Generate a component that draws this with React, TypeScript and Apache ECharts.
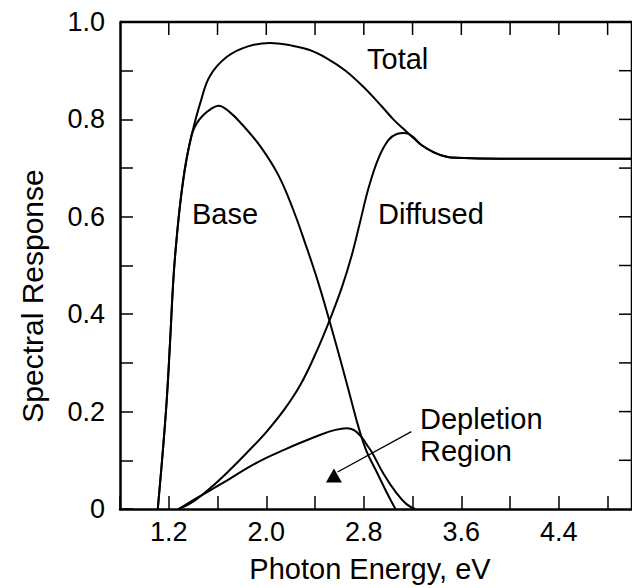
import React, { useEffect, useRef } from "react";
import * as echarts from "echarts";

// Photon energy (eV) / spectral response pairs
const totalE = [1.11, 1.155, 1.185, 1.21, 1.24, 1.27, 1.3, 1.34, 1.39, 1.46, 1.54, 1.68, 1.85, 2.03, 2.2, 2.35, 2.5, 2.65, 2.8, 2.95, 3.05, 3.12, 3.18, 3.27, 3.37, 3.47, 3.56, 3.92, 5.0];
const totalR = [0, 0.13, 0.23, 0.34, 0.48, 0.57, 0.64, 0.71, 0.77, 0.835, 0.89, 0.929, 0.95, 0.957, 0.952, 0.943, 0.925, 0.9, 0.866, 0.826, 0.798, 0.782, 0.768, 0.748, 0.733, 0.724, 0.721, 0.719, 0.719];

const baseE = [1.11, 1.155, 1.185, 1.21, 1.24, 1.27, 1.3, 1.34, 1.39, 1.43, 1.48, 1.55, 1.607, 1.7, 1.8, 1.95, 2.1, 2.22, 2.32, 2.42, 2.52, 2.62, 2.7, 2.76, 2.82, 2.91, 2.99, 3.06];
const baseR = [0, 0.13, 0.23, 0.34, 0.48, 0.57, 0.64, 0.71, 0.77, 0.792, 0.808, 0.822, 0.828, 0.815, 0.79, 0.745, 0.685, 0.615, 0.545, 0.47, 0.385, 0.295, 0.22, 0.165, 0.12, 0.074, 0.033, 0];

const diffE = [1.28, 1.4, 1.55, 1.7, 1.85, 2.0, 2.15, 2.28, 2.41, 2.52, 2.62, 2.7, 2.77, 2.84, 2.92, 3.0, 3.07, 3.13, 3.19, 3.27, 3.37, 3.47, 3.56, 3.92, 5.0];
const diffR = [0, 0.015, 0.045, 0.08, 0.118, 0.158, 0.205, 0.255, 0.322, 0.388, 0.455, 0.52, 0.59, 0.66, 0.72, 0.757, 0.77, 0.772, 0.767, 0.748, 0.733, 0.724, 0.721, 0.719, 0.719];

const deplE = [1.28, 1.4, 1.55, 1.7, 1.85, 2.0, 2.15, 2.3, 2.44, 2.56, 2.66, 2.72, 2.78, 2.83, 2.87, 2.96, 3.07, 3.15, 3.22];
const deplR = [0, 0.018, 0.04, 0.062, 0.085, 0.105, 0.122, 0.138, 0.152, 0.162, 0.166, 0.162, 0.148, 0.13, 0.115, 0.073, 0.032, 0.01, 0];

const xLabels = [1.2, 2.0, 2.8, 3.6, 4.4];
const yLabels = [0, 0.2, 0.4, 0.6, 0.8, 1.0];

const arrowFrom = [3.19, 0.159];
const arrowTo = [2.585, 0.076];
const arrowHead = [2.555, 0.069];

const X_MIN = 0.8;
const X_MAX = 5.0;
const X_STEP = 0.4;
const Y_MIN = 0;
const Y_MAX = 1;
const Y_STEP = 0.1;
const TICK = 13;

const FONT = "'Liberation Sans', Arial, Helvetica, sans-serif";

const zip = (a: number[], b: number[]) => a.map((v, i) => [v, b[i]]);
const near = (v: number, list: number[]) => list.some((t) => Math.abs(t - v) < 1e-6);

const axisLine = () => ({ show: true, onZero: false, lineStyle: { color: "#000", width: 2.5 } });
const axisTick = () => ({ show: true, inside: true, length: TICK, lineStyle: { color: "#000", width: 1.5 } });

export default function App() {
  const ref = useRef<HTMLDivElement>(null);
  useEffect(() => {
    if (!ref.current) return;
    const chart = echarts.init(ref.current, undefined, { renderer: "svg" });
    const lineStyle = { color: "#000", width: 2 };
    const series: any[] = [
      { name: "Total", data: zip(totalE, totalR) },
      { name: "Base", data: zip(baseE, baseR) },
      { name: "Diffused", data: zip(diffE, diffR) },
      {
        name: "Depletion Region",
        data: zip(deplE, deplR),
        markLine: {
          silent: true,
          symbol: ["none", "none"],
          label: { show: false },
          lineStyle: { color: "#000", width: 1.3, type: "solid" },
          data: [[{ coord: arrowFrom }, { coord: arrowTo }]],
        },
        markPoint: {
          silent: true,
          symbol: "triangle",
          symbolSize: [16, 14],
          itemStyle: { color: "#000" },
          label: { show: false },
          data: [{ coord: arrowHead }],
        },
      },
    ].map((s) => ({
      type: "line",
      showSymbol: false,
      symbol: "none",
      smooth: 0.4,
      lineStyle,
      ...s,
    }));

    const text = (t: string, x: number, y: number, size = 29) => ({
      type: "text",
      x,
      y,
      z: 100,
      style: { text: t, fill: "#000", font: `${size}px ${FONT}`, textVerticalAlign: "middle" },
    });

    chart.setOption({
      animation: false,
      grid: { left: 120, right: 8, top: 22, bottom: 79 },
      xAxis: {
        type: "value",
        position: "bottom",
        min: X_MIN,
        max: X_MAX,
        interval: X_STEP,
        axisLine: axisLine(),
        axisTick: axisTick(),
        splitLine: { show: false },
        axisLabel: {
          color: "#000",
          fontSize: 27,
          fontFamily: FONT,
          margin: 9,
          formatter: (v: number) => (near(v, xLabels) ? v.toFixed(1) : ""),
        },
      },
      yAxis: {
        type: "value",
        position: "left",
        min: Y_MIN,
        max: Y_MAX,
        interval: Y_STEP,
        axisLine: axisLine(),
        axisTick: axisTick(),
        splitLine: { show: false },
        axisLabel: {
          color: "#000",
          fontSize: 27,
          fontFamily: FONT,
          margin: 15,
          formatter: (v: number) => (near(v, yLabels) ? (v === 0 ? "0" : v.toFixed(1)) : ""),
        },
      },
      series,
    });

    // frame: top and right edges with inward ticks, placed from the axes' own scale
    const px = (x: number, y: number) => chart.convertToPixel({ gridIndex: 0 }, [x, y]) as number[];
    const [x0, yTop] = px(X_MIN, Y_MAX);
    const [xRight, y0] = px(X_MAX, Y_MIN);
    const frame: any[] = [
      {
        type: "polyline",
        z: 100,
        shape: { points: [[x0, yTop], [xRight, yTop], [xRight, y0]] },
        style: { stroke: "#000", lineWidth: 2.5, fill: null },
      },
    ];
    for (let i = 1; X_MIN + i * X_STEP < X_MAX - 1e-6; i++) {
      const [tx] = px(X_MIN + i * X_STEP, Y_MAX);
      frame.push({
        type: "line",
        z: 100,
        shape: { x1: tx, y1: yTop, x2: tx, y2: yTop + TICK },
        style: { stroke: "#000", lineWidth: 1.5 },
      });
    }
    for (let i = 1; Y_MIN + i * Y_STEP < Y_MAX - 1e-6; i++) {
      const [, ty] = px(X_MAX, Y_MIN + i * Y_STEP);
      frame.push({
        type: "line",
        z: 100,
        shape: { x1: xRight, y1: ty, x2: xRight - TICK, y2: ty },
        style: { stroke: "#000", lineWidth: 1.5 },
      });
    }

    chart.setOption({
      graphic: [
        ...frame,
        text("Total", 367, 59),
        text("Base", 192, 214),
        text("Diffused", 378, 214),
        text("Depletion", 420, 419),
        text("Region", 420, 451),
        {
          type: "text",
          x: 370,
          y: 569,
          z: 100,
          style: { text: "Photon Energy, eV", fill: "#000", font: `29px ${FONT}`, textAlign: "center", textVerticalAlign: "middle" },
        },
        {
          type: "text",
          x: 32,
          y: 296,
          z: 100,
          rotation: Math.PI / 2,
          style: { text: "Spectral Response", fill: "#000", font: `30px ${FONT}`, textAlign: "center", textVerticalAlign: "middle" },
        },
      ],
    });
    return () => chart.dispose();
  }, []);
  return <div ref={ref} style={{ width: 640, height: 588, margin: "-8px 0 0 -8px" }} />;
}
